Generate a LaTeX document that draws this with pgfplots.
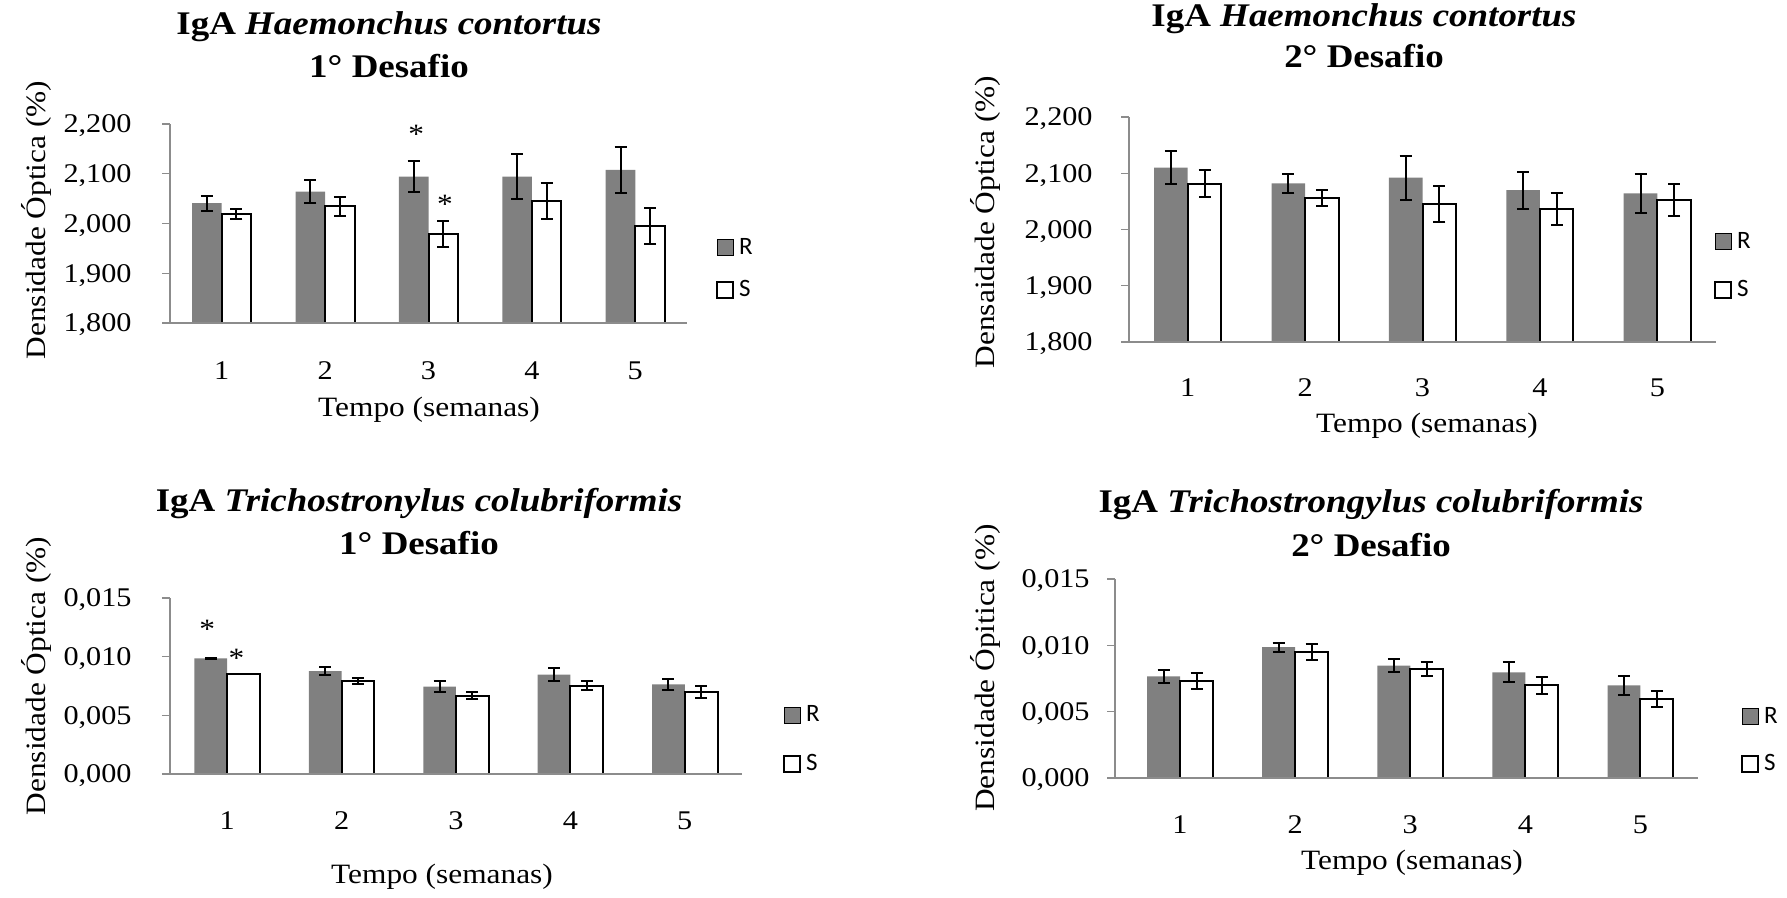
\documentclass[border=0pt]{standalone}
\usepackage{fontspec}
\setmainfont{Liberation Serif}[FakeStretch=1.12]
\newfontfamily\legfont{Carlito}
\usepackage{pgfplots}
\pgfplotsset{compat=1.18}
\usepackage{pgfplotstable}

\definecolor{barR}{RGB}{128,128,128}
\definecolor{axgray}{RGB}{140,140,140}

\pgfplotstableread{
x r re s se
1 2.041 0.015 2.020 0.010
2 2.064 0.023 2.035 0.019
3 2.094 0.031 1.979 0.026
4 2.094 0.045 2.045 0.036
5 2.108 0.046 1.995 0.037
}\dataA

\pgfplotstableread{
x r re s se
1 2.110 0.029 2.081 0.024
2 2.082 0.017 2.056 0.014
3 2.092 0.039 2.046 0.032
4 2.070 0.033 2.036 0.028
5 2.064 0.034 2.052 0.028
}\dataB

\pgfplotstableread{
x r re s se
1 0.00985 0.00002 0.00852 0.00002
2 0.00877 0.00034 0.00792 0.00027
3 0.00744 0.00048 0.00668 0.00028
4 0.00846 0.00057 0.00753 0.00041
5 0.00764 0.00044 0.00699 0.00054
}\dataC

\pgfplotstableread{
x r re s se
1 0.00766 0.00050 0.00731 0.00057
2 0.00986 0.00034 0.00950 0.00057
3 0.00847 0.00050 0.00819 0.00053
4 0.00797 0.00074 0.00698 0.00063
5 0.00698 0.00072 0.00597 0.00060
}\dataD

\pgfplotsset{
  igstyle/.style={
    scale only axis, anchor=south west,
    xmin=0.5, xmax=5.5, xtick={1,2,3,4,5},
    axis x line=bottom, axis y line=left,
    axis line style={axgray, line width=0.6pt, -},
    major x tick style={draw=none},
    ytick style={axgray, line width=0.6pt},
    tick align=outside, major tick length=4pt,
    tick label style={font=\fontsize{13.5}{16}\selectfont},
    /pgf/number format/assume math mode=true,
    scaled y ticks=false,
    yticklabel style={/pgf/number format/.cd, fixed, fixed zerofill, precision=3, use comma, 1000 sep={}, /tikz/.cd, anchor=base east, inner sep=0pt, yshift=-4.5pt},
    xticklabel style={anchor=base, inner sep=0pt},
    axis on top,
    clip=true,
    legend image code/.code={\draw[##1,/tikz/.cd] (0pt,-4pt) rectangle (8pt,4pt);},
    legend style={draw=none, fill=none, inner sep=0pt, outer sep=0pt, anchor=north west,
      font=\legfont\fontsize{12.5}{14}\selectfont,
      cells={anchor=west, inner sep=0pt},
      /tikz/every odd column/.append style={column sep=0.5pt}},
  },
  serR/.style={ybar, bar width=0.286, bar shift=0pt, fill=barR, draw=none,
    error bars/.cd, y dir=both, y explicit,
    error bar style={line width=1pt, black},
    error mark options={rotate=90, mark size=3pt, line width=1pt, black}},
  serS/.style={ybar, bar width=0.286, bar shift=0pt, fill=white, draw=black, line width=1pt,
    error bars/.cd, y dir=both, y explicit,
    error bar style={line width=1pt, black},
    error mark options={rotate=90, mark size=3pt, line width=1pt, black}},
}

\begin{document}
\begin{tikzpicture}
\useasboundingbox (0,0) rectangle (893.5pt,449pt);

% Panel 1
\begin{axis}[igstyle, at={(85pt,287.5pt)}, width=258.5pt, height=99.5pt,
  ymin=1.8, ymax=2.2, ytick={1.8,1.9,2.0,2.1,2.2},
  yticklabel style={xshift=-15pt}, xticklabel style={yshift=-24.5pt},
  legend style={at={(1.0561,0.447)}, /tikz/row sep=7.5pt}]
\addplot[serR] table[x expr=\thisrow{x}-0.143, y=r, y error=re] {\dataA};
\addplot[serS] table[x expr=\thisrow{x}+0.143, y=s, y error=se] {\dataA};
\legend{R,S}
\node[anchor=base, yshift=-7pt, font=\fontsize{14}{16}\selectfont] at (axis cs:2.88,2.188) {*};
\node[anchor=base, yshift=-7pt, font=\fontsize{14}{16}\selectfont] at (axis cs:3.16,2.049) {*};
\end{axis}

% Panel 2
\begin{axis}[igstyle, at={(564.5pt,278pt)}, width=293.5pt, height=112.5pt,
  ymin=1.8, ymax=2.2, ytick={1.8,1.9,2.0,2.1,2.2},
  yticklabel style={xshift=-14pt}, xticklabel style={yshift=-23.5pt},
  legend style={at={(0.9966,0.506)}, /tikz/row sep=10.5pt}]
\addplot[serR] table[x expr=\thisrow{x}-0.143, y=r, y error=re] {\dataB};
\addplot[serS] table[x expr=\thisrow{x}+0.143, y=s, y error=se] {\dataB};
\legend{R,S}
\end{axis}

% Panel 3
\begin{axis}[igstyle, at={(85pt,62pt)}, width=286pt, height=88pt,
  ymin=0, ymax=0.015, ytick={0,0.005,0.01,0.015},
  yticklabel style={xshift=-15pt}, xticklabel style={yshift=-24pt},
  legend style={at={(1.0717,0.411)}, /tikz/row sep=11pt}]
\addplot[serR] table[x expr=\thisrow{x}-0.143, y=r, y error=re] {\dataC};
\addplot[serS] table[x expr=\thisrow{x}+0.143, y=s, y error=se] {\dataC};
\legend{R,S}
\node[anchor=base, yshift=-7pt, font=\fontsize{14}{16}\selectfont] at (axis cs:0.825,0.0127) {*};
\node[anchor=base, yshift=-7pt, font=\fontsize{14}{16}\selectfont] at (axis cs:1.08,0.01031) {*};
\end{axis}

% Panel 4
\begin{axis}[igstyle, at={(557.5pt,60pt)}, width=291.5pt, height=99.5pt,
  xmin=0.435, xmax=5.5,
  ymin=0, ymax=0.015, ytick={0,0.005,0.01,0.015},
  yticklabel style={xshift=-8.5pt}, xticklabel style={yshift=-24pt},
  legend style={at={(1.0738,0.377)}, /tikz/row sep=10.25pt}]
\addplot[serR] table[x expr=\thisrow{x}-0.143, y=r, y error=re] {\dataD};
\addplot[serS] table[x expr=\thisrow{x}+0.143, y=s, y error=se] {\dataD};
\legend{R,S}
\end{axis}

% Titles
\node[anchor=base, font=\fontsize{16.5}{19}\selectfont\bfseries] at (194.5pt,431.5pt) {IgA \textit{Haemonchus contortus}};
\node[anchor=base, font=\fontsize{16.5}{19}\selectfont\bfseries] at (194.5pt,410pt) {1° Desafio};
\node[anchor=base, font=\fontsize{16.5}{19}\selectfont\bfseries] at (682pt,435.5pt) {IgA \textit{Haemonchus contortus}};
\node[anchor=base, font=\fontsize{16.5}{19}\selectfont\bfseries] at (682pt,415pt) {2° Desafio};
\node[anchor=base, font=\fontsize{16.5}{19}\selectfont\bfseries] at (209.5pt,193pt) {IgA \textit{Trichostronylus colubriformis}};
\node[anchor=base, font=\fontsize{16.5}{19}\selectfont\bfseries] at (209.5pt,171.5pt) {1° Desafio};
\node[anchor=base, font=\fontsize{16.5}{19}\selectfont\bfseries] at (685.5pt,192.5pt) {IgA \textit{Trichostrongylus colubriformis}};
\node[anchor=base, font=\fontsize{16.5}{19}\selectfont\bfseries] at (685.5pt,170.5pt) {2° Desafio};

% x labels
\node[anchor=base, font=\fontsize{14}{16}\selectfont] at (214.5pt,240.5pt) {Tempo (semanas)};
\node[anchor=base, font=\fontsize{14}{16}\selectfont] at (713.5pt,232.5pt) {Tempo (semanas)};
\node[anchor=base, font=\fontsize{14}{16}\selectfont] at (221pt,7pt) {Tempo (semanas)};
\node[anchor=base, font=\fontsize{14}{16}\selectfont] at (706pt,14pt) {Tempo (semanas)};

% y labels
\node[rotate=90, inner sep=0pt, font=\fontsize{14}{16}\selectfont] at (18pt,339pt) {Densidade Óptica (\%)};
\node[rotate=90, inner sep=0pt, font=\fontsize{14}{16}\selectfont] at (492.5pt,338pt) {Densaidade Óptica (\%)};
\node[rotate=90, inner sep=0pt, font=\fontsize{14}{16}\selectfont] at (18pt,111pt) {Densidade Óptica (\%)};
\node[rotate=90, inner sep=0pt, font=\fontsize{14}{16}\selectfont] at (492.5pt,115pt) {Densidade Ópitica (\%)};
\end{tikzpicture}
\end{document}
